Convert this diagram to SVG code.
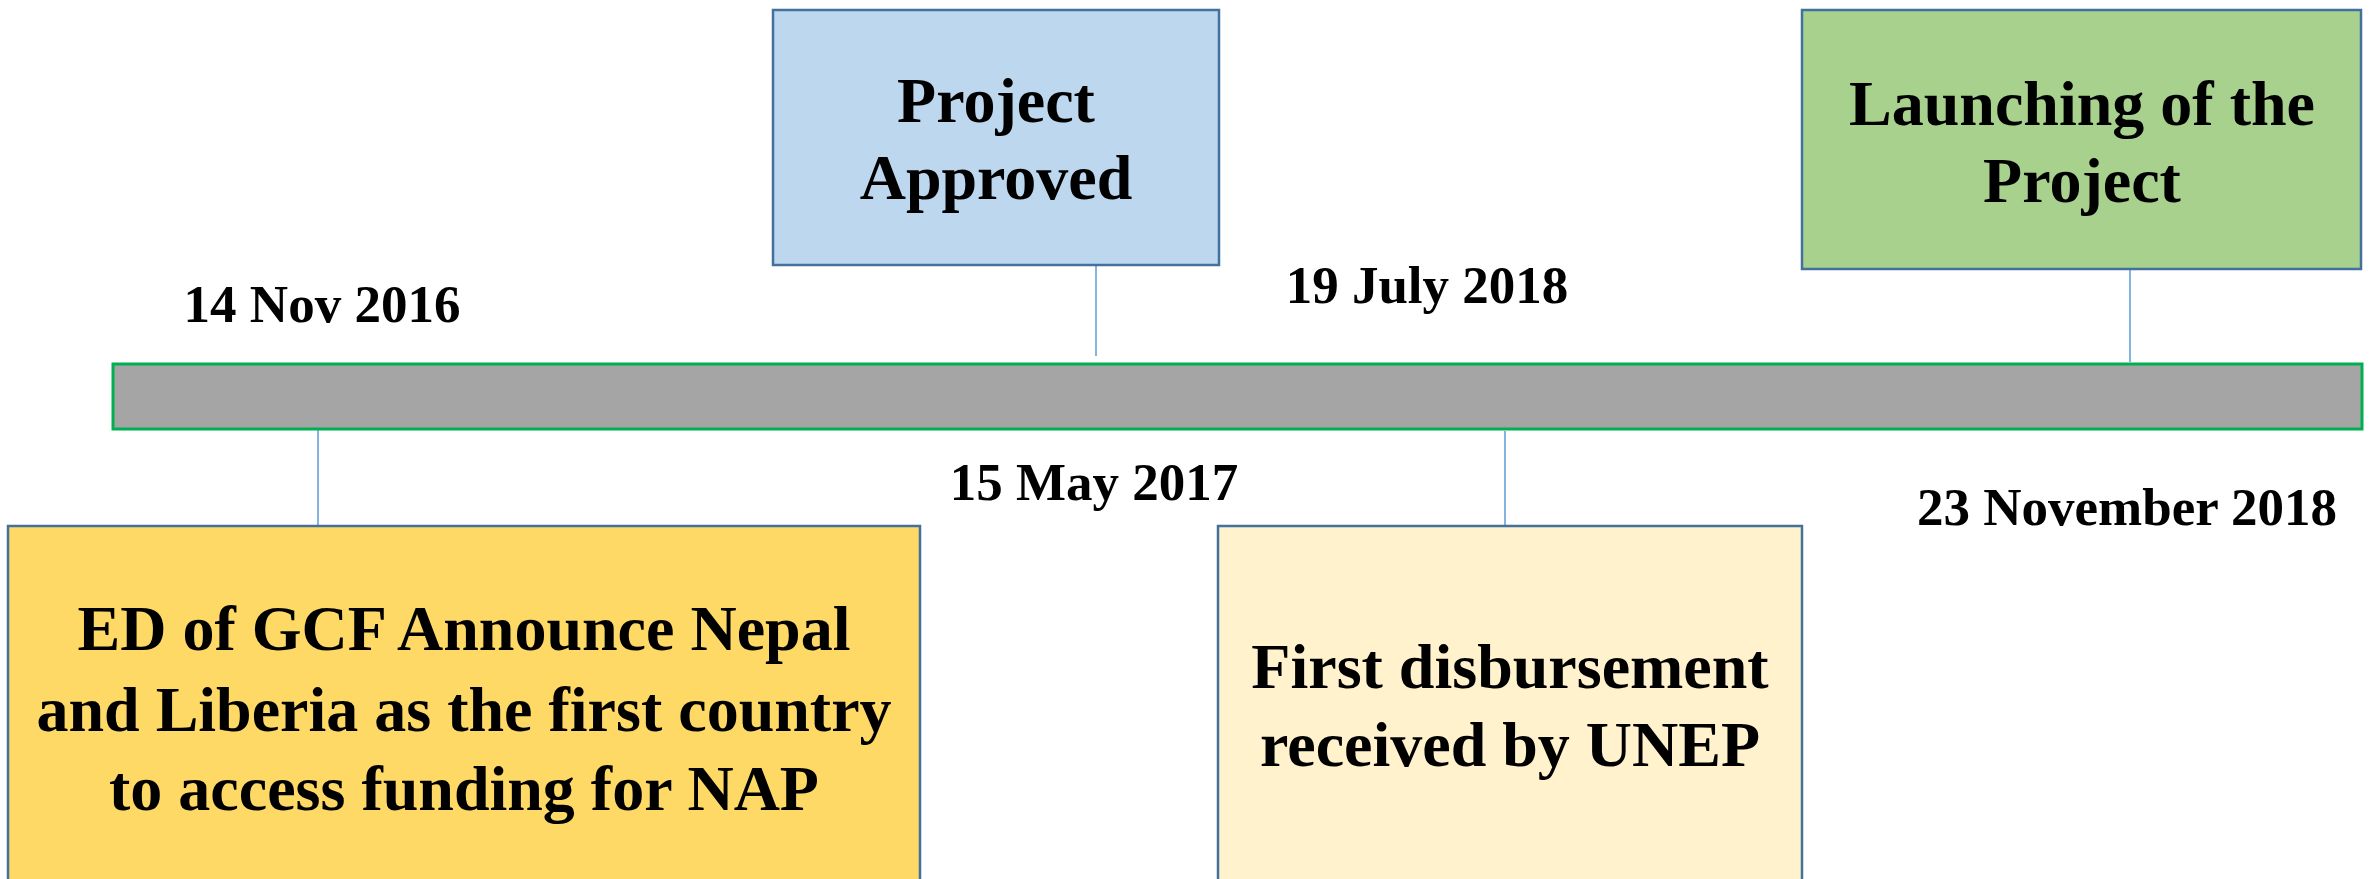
<svg xmlns="http://www.w3.org/2000/svg" width="2374" height="879" viewBox="0 0 2374 879">
  <style>
    .box { stroke: #41719C; stroke-width: 2.5; }
    .t { font-family: "Liberation Serif", "Times New Roman", serif; font-weight: bold; fill: #000; text-anchor: middle; }
    .big { font-size: 64px; }
    .date { font-size: 53px; }
    .conn { stroke: #5B9BD5; stroke-width: 1.5; fill: none; }
  </style>
  <rect width="2374" height="879" fill="#FFFFFF"/>

  <g id="connectors">
    <line class="conn" x1="318" y1="430" x2="318" y2="526"/>
    <line class="conn" x1="1096" y1="266" x2="1096" y2="356"/>
    <line class="conn" x1="1505" y1="431" x2="1505" y2="526"/>
    <line class="conn" x1="2130" y1="270" x2="2130" y2="362"/>
  </g>

  <g id="timeline">
    <rect x="113" y="364" width="2249" height="65" fill="#A5A5A5" stroke="#00B050" stroke-width="3"/>
  </g>

  <g id="node-gcf">
    <rect class="box" x="8" y="526" width="912" height="360" fill="#FFD966"/>
    <text class="t big" x="464" y="650">ED of GCF Announce Nepal</text>
    <text class="t big" x="464" y="731">and Liberia as the first country</text>
    <text class="t big" x="464" y="810">to access funding for NAP</text>
  </g>

  <g id="node-approved">
    <rect class="box" x="773" y="10" width="446" height="255" fill="#BDD7EE"/>
    <text class="t big" x="996" y="122">Project</text>
    <text class="t big" x="996" y="199">Approved</text>
  </g>

  <g id="node-disbursement">
    <rect class="box" x="1218" y="526" width="584" height="360" fill="#FFF2CC"/>
    <text class="t big" x="1510" y="688">First disbursement</text>
    <text class="t big" x="1510" y="766">received by UNEP</text>
  </g>

  <g id="node-launch">
    <rect class="box" x="1802" y="10" width="559" height="259" fill="#A9D18E"/>
    <text class="t big" x="2082" y="125">Launching of the</text>
    <text class="t big" x="2082" y="202">Project</text>
  </g>

  <g id="dates">
    <text class="t date" x="322" y="322">14 Nov 2016</text>
    <text class="t date" x="1094" y="500">15 May 2017</text>
    <text class="t date" x="1427" y="303">19 July 2018</text>
    <text class="t date" x="2127" y="525">23 November 2018</text>
  </g>
</svg>
